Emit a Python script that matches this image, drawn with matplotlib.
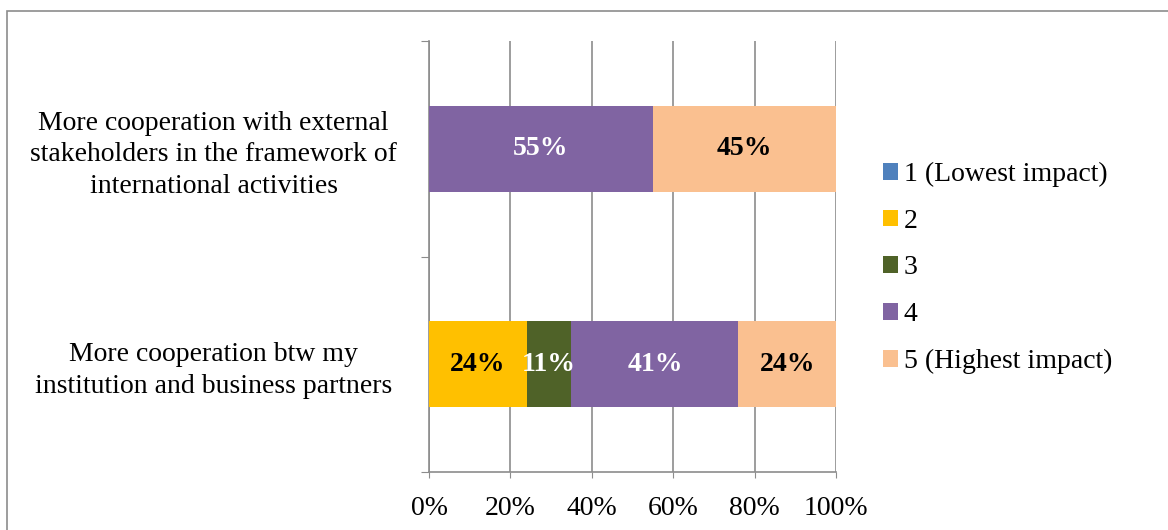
import matplotlib.pyplot as plt
from matplotlib.patches import Rectangle

# ---- данные ----------------------------------------------------------------
categories = [
    "More cooperation btw my\ninstitution and business partners",
    "More cooperation with external\nstakeholders in the framework of\ninternational activities",
]
series_names = ["1 (Lowest impact)", "2", "3", "4", "5 (Highest impact)"]
s1 = [0, 0]
s2 = [24, 0]
s3 = [11, 0]
s4 = [41, 55]
s5 = [24, 45]
colors = ["#4F81BD", "#FFC000", "#4F6228", "#8064A2", "#FAC090"]
label_colors = ["white", "black", "white", "white", "black"]
# ---------------------------------------------------------------------------

plt.rcParams['font.family'] = ['Liberation Serif', 'DejaVu Serif']
FS = 20

fig = plt.figure(figsize=(11.68, 5.30), dpi=100)
ax = fig.add_axes([429 / 1168, 1 - 472 / 530, (836 - 429) / 1168, (472 - 41) / 530])

# рамка вокруг диаграммы
fig.patches.append(Rectangle((7 / 1168, -0.01), 1.02, 1 - 11 / 530 + 0.01,
                             transform=fig.transFigure, fill=False,
                             edgecolor="#8c8c8c", linewidth=1.2))

ypos = list(range(len(categories)))
left = [0] * len(categories)
for vals, name, col, lc in zip([s1, s2, s3, s4, s5], series_names, colors, label_colors):
    ax.barh(ypos, vals, left=left, height=0.4, color=col, label=name, zorder=3)
    for y, v, l in zip(ypos, vals, left):
        if v > 0:
            ax.text(l + v / 2, y, f"{v}%", ha="center", va="center",
                    color=lc, fontsize=FS, fontweight="bold", zorder=4)
    left = [a + b for a, b in zip(left, vals)]

ax.set_xlim(0, 100)
ax.set_ylim(-0.5, 1.5)
ax.set_xticks(range(0, 101, 20))
ax.set_xticklabels([f"{x}%" for x in range(0, 101, 20)], fontsize=FS)
ax.set_yticks([-0.5, 0.5, 1.5])
ax.set_yticklabels([])
ax.set_yticks(ypos, minor=True)
ax.set_yticklabels(categories, minor=True, fontsize=FS, ha="center", linespacing=1.33)
ax.tick_params(axis="y", which="minor", length=0, pad=155)
ax.tick_params(axis="y", which="major", length=6, color="#8c8c8c")
ax.tick_params(axis="x", length=4.5, color="#8c8c8c", pad=13)

ax.grid(axis="x", color="#8c8c8c", linewidth=1.2, zorder=0)
for side in ["top", "right"]:
    ax.spines[side].set_visible(False)
for side in ["left", "bottom"]:
    ax.spines[side].set_color("#8c8c8c")
    ax.spines[side].set_linewidth(1.2)

ax.legend(loc="center left", bbox_to_anchor=(858 / 1168, 1 - 268 / 530),
          bbox_transform=fig.transFigure, frameon=False, fontsize=FS,
          handlelength=0.55, handleheight=0.55, handletextpad=0.2, labelspacing=0.78)

fig.savefig("out.png", dpi=100)
